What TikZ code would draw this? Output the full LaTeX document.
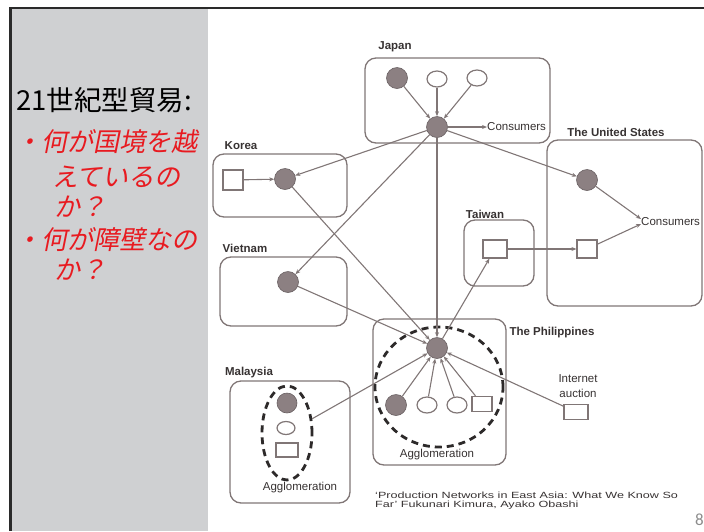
\documentclass[tikz,border=0pt]{standalone}
\usepackage{fontspec}
\setmainfont{Liberation Sans}
\newfontfamily\cjk{Noto Sans CJK JP}
\newfontfamily\cjkit[FakeSlant=0.2]{Noto Sans CJK JP}
\newfontfamily\pgfont{Carlito}
\usetikzlibrary{shapes.geometric,arrows.meta}
\definecolor{panel}{RGB}{207,208,210}
\definecolor{frame}{RGB}{42,42,42}
\definecolor{ln}{RGB}{128,118,118}
\definecolor{cf}{RGB}{140,128,130}
\definecolor{cd}{RGB}{105,96,98}
\definecolor{txt}{RGB}{55,50,50}
\definecolor{redt}{RGB}{232,26,32}
\definecolor{dsh}{RGB}{45,42,42}
\definecolor{pgnum}{RGB}{140,140,140}
\begin{document}
\begin{tikzpicture}[x=1pt,y=-1pt,
  region/.style={draw=ln, line width=1.3pt, rounded corners=11pt},
  fc/.style={circle, fill=cf, draw=cd, line width=0.6pt, minimum size=21pt, inner sep=0pt},
  oe/.style={ellipse, draw=ln, line width=1.2pt, fill=white, minimum width=20pt, minimum height=16pt, inner sep=0pt},
  sqbox/.style={rectangle, draw=ln, line width=1.2pt, fill=white, inner sep=0pt},
  agg/.style={ellipse, draw=dsh, line width=2.8pt, dash pattern=on 7pt off 5pt, inner sep=0pt},
  arr/.style={draw=ln, line width=1.1pt, -{Stealth[length=5pt,width=4pt]}},
  lbl/.style={font=\bfseries\fontsize{11.5}{13}\selectfont, text=txt, inner sep=0pt},
  plaintxt/.style={font=\fontsize{11.5}{13}\selectfont, text=txt, inner sep=0pt},
  captxt/.style={font=\fontsize{9}{10}\selectfont, text=txt, inner sep=0pt, anchor=west},
  ttl/.style={font=\cjk\fontsize{27.5}{30}\selectfont, text=black, inner sep=0pt, anchor=west},
  rtx/.style={font=\cjkit\fontsize{26}{30}\selectfont, text=redt, inner sep=0pt, anchor=west}
]
\useasboundingbox (0,0) rectangle (704,531);
% left panel and frame
\fill[panel] (11,9) rectangle (208,531);
\draw[frame, line width=2.3pt] (10.5,531) -- (10.5,8) -- (704,8);
% left texts
\node[ttl] (t0) at (16,100) {21世紀型貿易:};
\node[rtx] (t1) at (15,142) {・何が国境を越};
\node[rtx] (t2) at (52,177) {えているの};
\node[rtx] (t3) at (54,207) {か？};
\node[rtx] (t4) at (15,240) {・何が障壁なの};
\node[rtx] (t5) at (54,270) {か？};
% region boxes
\draw[region] (365,58) rectangle (550,143);
\draw[region] (213,154) rectangle (347,217);
\draw[region] (220,257) rectangle (347,326);
\draw[region] (547,140) rectangle (702,306);
\draw[region] (464,220) rectangle (534,286);
\draw[region] (373,319) rectangle (506,465);
\draw[region] (230,381) rectangle (350,503);
% region labels
\node[lbl] (ljp) at (395,47) {Japan};
\node[lbl] (lkr) at (241,146) {Korea};
\node[lbl] (lvn) at (245,248) {Vietnam};
\node[lbl] (lus) at (616,132) {The United States};
\node[lbl] (ltw) at (485,214) {Taiwan};
\node[lbl] (lph) at (552,333) {The Philippines};
\node[lbl] (lmy) at (249,373) {Malaysia};
% agglomeration rings
\node[agg, minimum width=128pt, minimum height=120pt] (phag) at (439,387) {};
\node[agg, minimum width=50pt, minimum height=94pt] (myag) at (287,433) {};
\node[plaintxt] (lphag) at (437,455) {Agglomeration};
\node[plaintxt] (lmyag) at (300,488) {Agglomeration};
% Japan
\node[fc] (jp1) at (397,78) {};
\node[oe] (jp2) at (437,79) {};
\node[oe] (jp3) at (477,78) {};
\node[fc] (jpc) at (437,127) {};
\node[plaintxt, anchor=west] (jpcons) at (487,127) {Consumers};
% Korea
\node[sqbox, minimum width=20pt, minimum height=20pt] (kr0) at (233,180) {};
\node[fc] (kr) at (285,179) {};
% Vietnam
\node[fc] (vn) at (288,282) {};
% United States
\node[fc] (us1) at (587,180) {};
\node[sqbox, minimum width=20pt, minimum height=18pt] (us2) at (587,249) {};
\node[plaintxt, anchor=west] (uscons) at (641,222) {Consumers};
% Taiwan
\node[sqbox, minimum width=24pt, minimum height=18pt] (tw) at (495,249) {};
% Philippines
\node[fc] (phc) at (437,348) {};
\node[fc] (ph1) at (396,405) {};
\node[oe] (ph2) at (427,405) {};
\node[oe] (ph3) at (457,405) {};
\node[sqbox, minimum width=20pt, minimum height=15pt] (ph4) at (482,404) {};
\node[plaintxt, align=center, font=\fontsize{11.5}{15}\selectfont] (lau) at (578,386) {Internet\\auction};
\node[sqbox, minimum width=24pt, minimum height=15pt] (au) at (576,412) {};
% Malaysia
\node[fc, minimum size=20pt] (my1) at (287,403) {};
\node[oe, minimum width=18pt, minimum height=13pt] (my2) at (286,428) {};
\node[sqbox, minimum width=22pt, minimum height=14pt] (my3) at (287,450) {};
% connectors
\draw[arr] (jp1) -- (jpc);
\draw[arr] (jp2) -- (jpc);
\draw[arr] (jp3) -- (jpc);
\draw[arr] (jpc) -- (jpcons.west);
\draw[arr] (jpc) -- (kr);
\draw[arr] (jpc) -- (vn);
\draw[arr] (jpc) -- (us1);
\draw[arr] (jpc) -- (phc);
\draw[arr] (kr0) -- (kr);
\draw[arr] (kr) -- (phc);
\draw[arr] (vn) -- (phc);
\draw[arr] (phc) -- (tw);
\draw[arr] (tw) -- (us2);
\draw[arr] (us1) -- ([yshift=3pt]uscons.west);
\draw[arr] (us2) -- ([yshift=-2pt]uscons.west);
\draw[arr] (ph1) -- (phc);
\draw[arr] (ph2) -- (phc);
\draw[arr] (ph3) -- (phc);
\draw[arr] (ph4) -- (phc);
\draw[arr] (au) -- (phc);
\draw[arr] (myag) -- (phc);
% caption
\node[captxt] (c1) at (375,495) {\scalebox{1.4}[1]{`Production Networks in East Asia: What We Know So}};
\node[captxt] (c2) at (375,505) {\scalebox{1.4}[1]{Far' Fukunari Kimura, Ayako Obashi}};
% page number
\node[anchor=west, font=\pgfont\fontsize{17}{20}\selectfont, text=pgnum, inner sep=0pt] (pg) at (695,520) {8};
\end{tikzpicture}
\end{document}
